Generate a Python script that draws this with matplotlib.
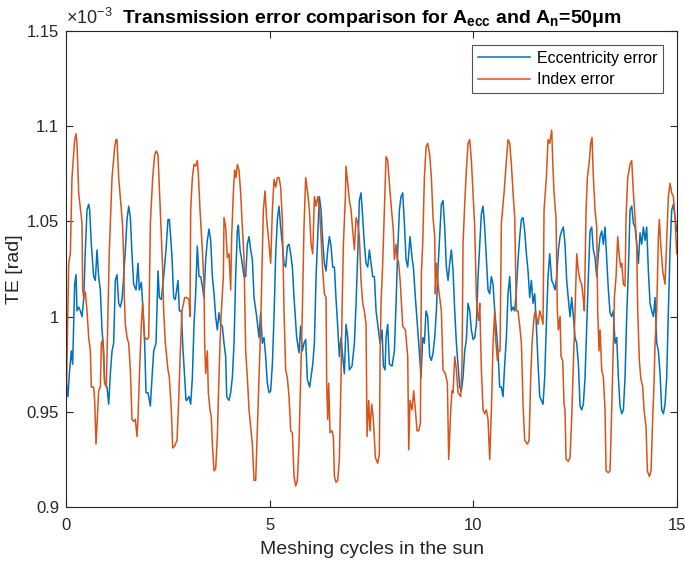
import matplotlib
matplotlib.use("Agg")
import matplotlib.pyplot as plt
from matplotlib.ticker import FormatStrFormatter

plt.rcParams["font.family"] = ["Liberation Sans", "DejaVu Sans"]
plt.rcParams["mathtext.fontset"] = "custom"
plt.rcParams["mathtext.rm"] = "Liberation Sans"
plt.rcParams["mathtext.bf"] = "Liberation Sans:bold"

# values, TE in units of 1e-3 rad
ecc_x = [
    0.000, 0.049, 0.082, 0.131, 0.164, 0.213, 0.246, 0.270, 0.311, 0.352, 0.393, 0.434, 0.475, 0.516,
    0.557, 0.581, 0.622, 0.679, 0.720, 0.761, 0.802, 0.843, 0.884, 0.925, 0.949, 1.007, 1.048, 1.089,
    1.130, 1.170, 1.211, 1.252, 1.293, 1.334, 1.375, 1.416, 1.457, 1.498, 1.539, 1.580, 1.620, 1.661,
    1.719, 1.768, 1.800, 1.850, 1.891, 1.931, 1.964, 2.013, 2.071, 2.112, 2.153, 2.210, 2.259, 2.292,
    2.341, 2.398, 2.455, 2.504, 2.537, 2.562, 2.603, 2.643, 2.684, 2.750, 2.783, 2.832, 2.864, 2.914,
    2.946, 2.962, 3.020, 3.061, 3.102, 3.143, 3.183, 3.224, 3.265, 3.306, 3.347, 3.388, 3.429, 3.470,
    3.511, 3.552, 3.593, 3.634, 3.674, 3.715, 3.756, 3.797, 3.838, 3.879, 3.920, 3.945, 4.002, 4.043,
    4.084, 4.125, 4.165, 4.206, 4.231, 4.272, 4.305, 4.337, 4.370, 4.411, 4.452, 4.493, 4.534, 4.575,
    4.616, 4.681, 4.738, 4.779, 4.820, 4.861, 4.902, 4.943, 4.984, 5.025, 5.066, 5.107, 5.148, 5.189,
    5.229, 5.270, 5.311, 5.352, 5.393, 5.434, 5.475, 5.516, 5.557, 5.598, 5.663, 5.720, 5.761, 5.802,
    5.843, 5.884, 5.925, 5.982, 6.057, 6.098, 6.139, 6.179, 6.220, 6.261, 6.302, 6.343, 6.384, 6.425,
    6.466, 6.507, 6.548, 6.589, 6.630, 6.670, 6.711, 6.752, 6.793, 6.834, 6.875, 6.916, 6.957, 7.022,
    7.080, 7.121, 7.162, 7.202, 7.243, 7.284, 7.325, 7.366, 7.407, 7.448, 7.489, 7.530, 7.571, 7.612,
    7.653, 7.710, 7.759, 7.792, 7.833, 7.857, 7.898, 7.939, 8.005, 8.062, 8.103, 8.144, 8.185, 8.225,
    8.266, 8.307, 8.348, 8.389, 8.446, 8.495, 8.528, 8.577, 8.635, 8.676, 8.716, 8.757, 8.798, 8.839,
    8.880, 8.929, 8.970, 9.011, 9.052, 9.093, 9.134, 9.174, 9.215, 9.256, 9.297, 9.338, 9.379, 9.420,
    9.461, 9.502, 9.543, 9.584, 9.625, 9.665, 9.706, 9.747, 9.788, 9.829, 9.870, 9.911, 9.952, 9.993,
    10.034, 10.075, 10.116, 10.157, 10.197, 10.238, 10.279, 10.320, 10.361, 10.402, 10.443, 10.484,
    10.525, 10.566, 10.607, 10.648, 10.688, 10.729, 10.770, 10.811, 10.852, 10.893, 10.934, 10.975,
    11.016, 11.057, 11.098, 11.139, 11.180, 11.220, 11.261, 11.302, 11.343, 11.384, 11.425, 11.466,
    11.507, 11.548, 11.589, 11.630, 11.671, 11.711, 11.752, 11.793, 11.834, 11.875, 11.924, 11.965,
    12.006, 12.047, 12.088, 12.129, 12.169, 12.210, 12.251, 12.292, 12.333, 12.374, 12.415, 12.456,
    12.497, 12.538, 12.579, 12.620, 12.660, 12.701, 12.742, 12.783, 12.824, 12.865, 12.906, 12.947,
    12.988, 13.029, 13.070, 13.111, 13.152, 13.192, 13.233, 13.274, 13.315, 13.356, 13.397, 13.438,
    13.479, 13.520, 13.561, 13.602, 13.643, 13.684, 13.724, 13.765, 13.806, 13.847, 13.888, 13.929,
    13.970, 14.011, 14.052, 14.093, 14.134, 14.175, 14.216, 14.256, 14.297, 14.338, 14.379, 14.420,
    14.461, 14.502, 14.543, 14.584, 14.625, 14.666, 14.706, 14.747, 14.788, 14.829, 14.870, 14.911,
    14.952, 14.993,
]
ecc_te = [
    0.967, 0.958, 0.970, 0.982, 0.975, 1.017, 1.022, 1.003, 1.005, 1.003, 1.000, 1.009, 1.035, 1.056,
    1.059, 1.056, 1.038, 1.021, 1.019, 1.035, 1.021, 1.014, 0.993, 0.982, 0.965, 0.963, 0.954, 0.970,
    0.982, 0.986, 1.019, 1.022, 1.007, 1.005, 1.009, 1.021, 1.035, 1.051, 1.058, 1.052, 1.033, 1.017,
    1.014, 1.028, 1.014, 1.018, 1.003, 0.986, 0.960, 0.960, 0.953, 0.968, 0.982, 0.986, 1.024, 1.010,
    1.009, 1.021, 1.035, 1.051, 1.051, 1.044, 1.031, 1.010, 1.009, 1.019, 1.003, 1.003, 0.986, 0.968,
    0.956, 0.956, 0.958, 0.954, 0.968, 0.996, 1.012, 1.037, 1.021, 1.021, 1.016, 1.010, 1.030, 1.040,
    1.046, 1.040, 1.021, 1.012, 1.000, 0.993, 1.002, 0.996, 0.995, 0.986, 0.979, 0.958, 0.956, 0.960,
    0.968, 0.986, 1.021, 1.045, 1.048, 1.035, 1.031, 1.026, 1.021, 1.021, 1.038, 1.042, 1.035, 1.030,
    1.010, 1.000, 0.989, 1.002, 0.986, 0.989, 0.979, 0.965, 0.960, 0.961, 0.975, 1.000, 1.033, 1.051,
    1.058, 1.047, 1.038, 1.028, 1.026, 1.037, 1.038, 1.033, 1.026, 1.010, 0.989, 0.981, 0.995, 0.982,
    0.986, 0.988, 0.967, 0.963, 0.975, 0.986, 1.021, 1.042, 1.063, 1.056, 1.040, 1.028, 1.024, 1.035,
    1.042, 1.037, 1.026, 1.026, 1.009, 0.995, 0.979, 0.989, 0.979, 0.970, 0.996, 0.989, 0.972, 0.974,
    0.986, 1.007, 1.033, 1.061, 1.065, 1.052, 1.038, 1.028, 1.026, 1.035, 1.028, 1.021, 1.021, 1.003,
    0.996, 0.986, 0.993, 0.974, 0.972, 0.989, 0.996, 0.975, 0.974, 0.982, 1.007, 1.035, 1.056, 1.063,
    1.065, 1.049, 1.030, 1.026, 1.042, 1.031, 1.026, 1.010, 0.993, 0.981, 0.968, 0.989, 0.986, 1.003,
    1.000, 0.979, 0.977, 0.981, 0.989, 1.003, 1.026, 1.042, 1.059, 1.061, 1.047, 1.026, 1.019, 1.028,
    1.035, 1.024, 1.003, 0.986, 0.974, 0.963, 0.961, 0.968, 0.982, 0.988, 1.007, 1.003, 0.993, 0.988,
    0.989, 0.996, 1.021, 1.038, 1.054, 1.058, 1.047, 1.030, 1.014, 1.012, 1.021, 1.017,
    1.003, 0.993, 0.981, 0.963, 0.963, 0.958, 0.975, 0.989, 1.012, 1.021, 1.003, 1.005,
    1.003, 1.014, 1.030, 1.042, 1.051, 1.052, 1.045, 1.033, 1.024, 1.010, 1.019, 1.007,
    1.012, 0.995, 0.975, 0.958, 0.956, 0.954, 0.968, 0.996, 1.021, 1.033, 1.019, 1.017,
    1.014, 1.021, 1.035, 1.042, 1.045, 1.047, 1.038, 1.019, 1.009, 1.000, 1.010, 1.000,
    0.989, 0.986, 0.975, 0.953, 0.951, 0.954, 0.968, 0.995, 1.021, 1.045, 1.047, 1.035,
    1.031, 1.021, 1.033, 1.042, 1.045, 1.038, 1.047, 1.031, 1.014, 1.002, 1.000, 1.003,
    0.986, 0.989, 0.968, 0.953, 0.949, 0.951, 0.968, 1.000, 1.024, 1.056, 1.058, 1.049,
    1.047, 1.038, 1.028, 1.044, 1.038, 1.047, 1.040, 1.047, 1.024, 1.007, 1.003, 1.000,
    1.010, 0.986, 0.982, 0.970, 0.951, 0.949, 0.954, 0.968, 1.003, 1.035, 1.056, 1.059,
    1.052, 1.045,
]

idx_x = [
    0.000, 0.066, 0.107, 0.147, 0.213, 0.246, 0.270, 0.311, 0.377, 0.393, 0.409, 0.434, 0.475, 0.516,
    0.557, 0.598, 0.622, 0.679, 0.704, 0.737, 0.778, 0.802, 0.843, 0.868, 0.900, 0.925, 0.949, 0.990,
    1.031, 1.064, 1.130, 1.195, 1.228, 1.252, 1.293, 1.359, 1.391, 1.416, 1.432, 1.457, 1.498, 1.539,
    1.580, 1.620, 1.661, 1.702, 1.743, 1.768, 1.800, 1.850, 1.882, 1.931, 1.989, 2.030, 2.071, 2.128,
    2.177, 2.218, 2.259, 2.292, 2.341, 2.374, 2.398, 2.439, 2.504, 2.537, 2.586, 2.619, 2.668, 2.725,
    2.766, 2.807, 2.848, 2.914, 2.962, 3.020, 3.044, 3.061, 3.102, 3.143, 3.183, 3.224, 3.249, 3.290,
    3.347, 3.388, 3.404, 3.429, 3.470, 3.494, 3.535, 3.568, 3.593, 3.634, 3.674, 3.715, 3.748, 3.781,
    3.814, 3.863, 3.879, 3.920, 3.961, 4.002, 4.043, 4.067, 4.108, 4.141, 4.174, 4.206, 4.247, 4.288,
    4.329, 4.370, 4.411, 4.452, 4.493, 4.534, 4.575, 4.616, 4.657, 4.697, 4.738, 4.779, 4.845, 4.886,
    4.927, 4.984, 5.025, 5.066, 5.107, 5.148, 5.189, 5.229, 5.270, 5.311, 5.352, 5.393, 5.434, 5.475,
    5.516, 5.557, 5.598, 5.639, 5.680, 5.720, 5.761, 5.802, 5.843, 5.884, 5.934, 5.975, 6.016, 6.057,
    6.098, 6.139, 6.179, 6.220, 6.261, 6.302, 6.343, 6.384, 6.400, 6.425, 6.449, 6.482, 6.531, 6.564,
    6.589, 6.630, 6.670, 6.711, 6.752, 6.777, 6.810, 6.859, 6.875, 6.916, 6.957, 6.998, 7.039, 7.080,
    7.121, 7.162, 7.202, 7.243, 7.284, 7.325, 7.366, 7.391, 7.432, 7.464, 7.505, 7.546, 7.595, 7.653,
    7.693, 7.710, 7.734, 7.775, 7.816, 7.857, 7.898, 7.939, 7.980, 8.037, 8.062, 8.103, 8.127, 8.168,
    8.209, 8.266, 8.332, 8.389, 8.414, 8.446, 8.495, 8.536, 8.577, 8.618, 8.659, 8.700, 8.725, 8.757,
    8.798, 8.839, 8.880, 8.929, 8.970, 9.011, 9.052, 9.068, 9.093, 9.134, 9.174, 9.215, 9.256, 9.314,
    9.363, 9.395, 9.445, 9.477, 9.502, 9.543, 9.584, 9.625, 9.690, 9.723, 9.747, 9.788, 9.829, 9.870,
    9.911, 9.952, 9.993, 10.034, 10.075, 10.099, 10.132, 10.157, 10.197, 10.238, 10.279, 10.320,
    10.361, 10.402, 10.443, 10.484, 10.525, 10.549, 10.590, 10.623, 10.656, 10.688, 10.754, 10.811,
    10.852, 10.893, 10.934, 10.975, 11.016, 11.057, 11.098, 11.139, 11.180, 11.220, 11.261, 11.327,
    11.368, 11.409, 11.441, 11.490, 11.523, 11.548, 11.589, 11.630, 11.671, 11.711, 11.736, 11.793,
    11.834, 11.875, 11.924, 11.948, 11.981, 12.030, 12.063, 12.088, 12.129, 12.153, 12.194, 12.227,
    12.251, 12.276, 12.333, 12.374, 12.415, 12.456, 12.497, 12.538, 12.579, 12.620, 12.660, 12.701,
    12.726, 12.767, 12.800, 12.849, 12.881, 12.914, 12.947, 12.988, 13.029, 13.053, 13.086, 13.111,
    13.152, 13.192, 13.233, 13.258, 13.315, 13.356, 13.397, 13.438, 13.463, 13.504, 13.544, 13.577,
    13.618, 13.643, 13.684, 13.724, 13.749, 13.790, 13.847, 13.888, 13.929, 13.970, 14.011, 14.035,
    14.076, 14.109, 14.158, 14.191, 14.240, 14.273, 14.322, 14.363, 14.404, 14.436, 14.461, 14.502,
    14.543, 14.567, 14.600, 14.649, 14.706, 14.747, 14.788, 14.829, 14.870, 14.911, 14.952, 14.993,
]
idx_te = [
    0.948, 1.028, 1.033, 1.073, 1.093, 1.096, 1.091, 1.065, 1.052, 1.049, 1.014, 1.010, 1.013, 1.003,
    0.989, 0.982, 0.963, 0.963, 0.956, 0.933, 0.951, 0.961, 0.963, 0.986, 0.988, 0.977, 0.965, 0.963,
    1.003, 1.035, 1.073, 1.089, 1.093, 1.093, 1.073, 1.056, 1.047, 1.031, 1.010, 0.996, 0.989, 0.986,
    0.972, 0.946, 0.945, 0.946, 0.937, 0.947, 0.968, 0.996, 1.007, 0.989, 0.988, 0.989, 1.049, 1.073,
    1.085, 1.087, 1.085, 1.068, 1.042, 1.024, 1.003, 0.986, 0.972, 0.968, 0.951, 0.931, 0.932, 0.935,
    0.956, 0.982, 1.003, 1.010, 1.010, 1.009, 1.000, 1.056, 1.073, 1.080, 1.079, 1.082, 1.075, 1.056,
    1.035, 1.017, 0.986, 0.970, 0.982, 0.960, 0.951, 0.947, 0.933, 0.919, 0.920, 0.937, 0.963, 0.986,
    1.003, 1.021, 1.052, 1.047, 1.031, 1.033, 1.014, 1.042, 1.065, 1.077, 1.073, 1.080, 1.077, 1.065,
    1.047, 1.031, 0.982, 0.968, 0.951, 0.942, 0.933, 0.914, 0.914, 0.940, 0.968, 0.995, 1.056, 1.066,
    1.051, 1.038, 1.028, 1.056, 1.072, 1.068, 1.073, 1.073, 1.068, 1.051, 1.003, 0.972, 0.968, 0.958,
    0.940, 0.939, 0.916, 0.911, 0.914, 0.933, 0.968, 1.003, 1.047, 1.073, 1.065, 1.056, 1.038, 1.033,
    1.063, 1.058, 1.063, 1.058, 1.042, 1.024, 1.012, 1.010, 0.965, 0.946, 0.965, 0.939, 0.940, 0.937,
    0.916, 0.913, 0.914, 0.925, 0.968, 1.003, 1.038, 1.063, 1.079, 1.070, 1.061, 1.056, 1.045, 1.035,
    1.052, 1.049, 1.042, 1.019, 1.007, 1.003, 0.996, 0.937, 0.956, 0.940, 0.954, 0.946, 0.926, 0.923,
    0.928, 0.977, 1.007, 1.028, 1.056, 1.084, 1.082, 1.070, 1.059, 1.045, 1.030, 1.038, 1.031, 1.028,
    1.017, 0.995, 0.993, 0.979, 0.930, 0.956, 0.951, 0.961, 0.951, 0.940, 0.940, 0.944, 1.023, 1.038,
    1.073, 1.089, 1.091, 1.085, 1.073, 1.052, 1.042, 1.012, 1.028, 1.017, 1.010, 1.003, 0.972, 0.970,
    0.965, 0.925, 0.951, 0.961, 0.960, 0.979, 0.972, 0.960, 0.958, 0.975, 1.038, 1.059, 1.077, 1.091,
    1.093, 1.082, 1.065, 1.047, 1.010, 1.002, 0.998, 1.007, 0.972, 0.951, 0.949, 0.951,
    0.946, 0.925, 0.951, 0.986, 1.003, 0.988, 0.977, 0.982, 0.982, 1.049, 1.065, 1.082,
    1.093, 1.091, 1.080, 1.065, 1.052, 1.003, 1.003, 0.995, 0.986, 0.954, 0.935, 0.933,
    0.935, 0.968, 0.986, 1.000, 1.003, 1.000, 0.996, 1.003, 1.000, 0.996, 1.056, 1.073,
    1.093, 1.091, 1.098, 1.082, 1.065, 1.052, 1.003, 0.993, 1.000, 0.979, 0.977, 0.954,
    0.951, 0.925, 0.924, 0.926, 0.947, 0.975, 1.003, 1.033, 1.024, 1.019, 1.017, 1.009,
    1.003, 1.056, 1.073, 1.082, 1.091, 1.094, 1.073, 1.056, 1.047, 1.003, 0.982, 0.993,
    0.972, 0.968, 0.951, 0.919, 0.918, 0.919, 0.951, 0.986, 1.010, 1.021, 1.042, 1.033,
    1.026, 1.028, 1.017, 1.016, 1.052, 1.073, 1.080, 1.082, 1.065, 1.052, 1.038, 1.003,
    0.977, 0.968, 0.963, 0.951, 0.942, 0.919, 0.916, 0.919, 0.947, 0.965, 0.986, 1.003,
    1.042, 1.051, 1.038, 1.024, 1.017, 1.040, 1.063, 1.070, 1.065, 1.063, 1.052, 1.033,
]

labels = ["Eccentricity error", "Index error"]
colors = ["#0072BD", "#D95319"]
x_ticks = [0, 5, 10, 15]
y_ticks = [0.9, 0.95, 1.0, 1.05, 1.1, 1.15]

fig = plt.figure(figsize=(6.85, 5.63), dpi=100)
ax = fig.add_axes([66 / 685, 56 / 563, 611 / 685, 476 / 563])

ax.plot(ecc_x, ecc_te, color=colors[0], lw=1.1, label=labels[0])
ax.plot(idx_x, idx_te, color=colors[1], lw=1.1, label=labels[1])

ax.set_xlim(0, 15)
ax.set_ylim(0.9, 1.15)
ax.set_xticks(x_ticks)
ax.set_yticks(y_ticks)
ax.yaxis.set_major_formatter(FormatStrFormatter("%g"))

dark = "#262626"
for side in ax.spines.values():
    side.set_color(dark)
    side.set_linewidth(0.8)
ax.tick_params(direction="in", length=5, width=0.8, colors=dark, labelsize=12,
               top=True, right=True)
ax.tick_params(axis="x", pad=8)
ax.tick_params(axis="y", pad=5)

ax.set_xlabel("Meshing cycles in the sun", fontsize=14, color=dark, labelpad=6)
ax.set_ylabel("TE [rad]", fontsize=14, color=dark, labelpad=3)
ax.set_title(r"Transmission error comparison for A$_{\mathbf{ecc}}$ and A$_{\mathbf{n}}$=50μm",
             fontsize=14, fontweight="bold", color="black", pad=6)
ax.text(0.0, 1.006, r"$\times10^{-3}$", transform=ax.transAxes, fontsize=13,
        color=dark, ha="left", va="bottom")

leg = ax.legend(loc="upper right", fontsize=11.5, frameon=True, fancybox=False,
                handlelength=3.3, borderaxespad=0.9, labelspacing=0.4, handletextpad=0.4,
                borderpad=0.35)
leg.get_frame().set_edgecolor(dark)
leg.get_frame().set_linewidth(0.8)

fig.savefig("out.png", dpi=100)
